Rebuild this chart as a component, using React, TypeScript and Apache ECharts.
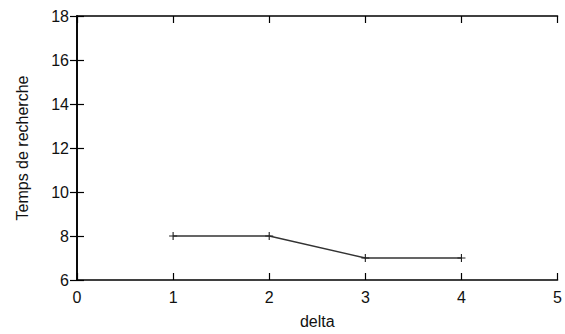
import React, { useEffect, useRef } from "react";
import * as echarts from "echarts";

const deltas = [1, 2, 3, 4];
const times = [8, 8, 7, 7];
const xTitle = "delta";
const yTitle = "Temps de recherche";

export default function App() {
  const ref = useRef<HTMLDivElement>(null);
  useEffect(() => {
    if (!ref.current) return;
    const chart = echarts.init(ref.current, null, { renderer: "svg" });
    const font = "Liberation Sans, Arial, Helvetica, sans-serif";
    const axisLine = { show: true, lineStyle: { color: "#000", width: 1.6 } };
    const axisTick = { show: true, inside: true, length: 7, lineStyle: { color: "#000", width: 1.2 } };
    chart.setOption({
      animation: false,
      backgroundColor: "#fff",
      grid: { left: 77, right: 6, top: 16, bottom: 53, containLabel: false },
      xAxis: [
        {
          type: "value",
          min: 0,
          max: 5,
          interval: 1,
          position: "bottom",
          name: xTitle,
          nameLocation: "middle",
          nameGap: 33,
          nameTextStyle: { fontFamily: font, fontSize: 16, color: "#111" },
          axisLine,
          axisTick,
          axisLabel: { fontFamily: font, fontSize: 16, color: "#111", margin: 9 },
          splitLine: { show: false },
        },
        {
          type: "value",
          min: 0,
          max: 5,
          interval: 1,
          position: "top",
          axisLine,
          axisTick,
          axisLabel: { show: false },
          splitLine: { show: false },
        },
      ],
      yAxis: [
        {
          type: "value",
          min: 6,
          max: 18,
          interval: 2,
          position: "left",
          name: yTitle,
          nameLocation: "middle",
          nameGap: 47,
          nameTextStyle: { fontFamily: font, fontSize: 16, color: "#111" },
          axisLine,
          axisTick,
          axisLabel: { fontFamily: font, fontSize: 16, color: "#111", margin: 8 },
          splitLine: { show: false },
        },
        {
          type: "value",
          min: 6,
          max: 18,
          interval: 2,
          position: "right",
          axisLine,
          axisTick,
          axisLabel: { show: false },
          splitLine: { show: false },
        },
      ],
      series: [
        {
          type: "line",
          data: deltas.map((d, i) => [d, times[i]]),
          symbol: "path://M4.3,0H5.7V4.3H10V5.7H5.7V10H4.3V5.7H0V4.3H4.3Z",
          symbolSize: 8,
          showSymbol: true,
          itemStyle: { color: "#222" },
          lineStyle: { color: "#333", width: 1.4 },
        },
      ],
    });
    return () => chart.dispose();
  }, []);
  return <div ref={ref} style={{ width: 565, height: 334, position: "absolute", left: 0, top: 0 }} />;
}
